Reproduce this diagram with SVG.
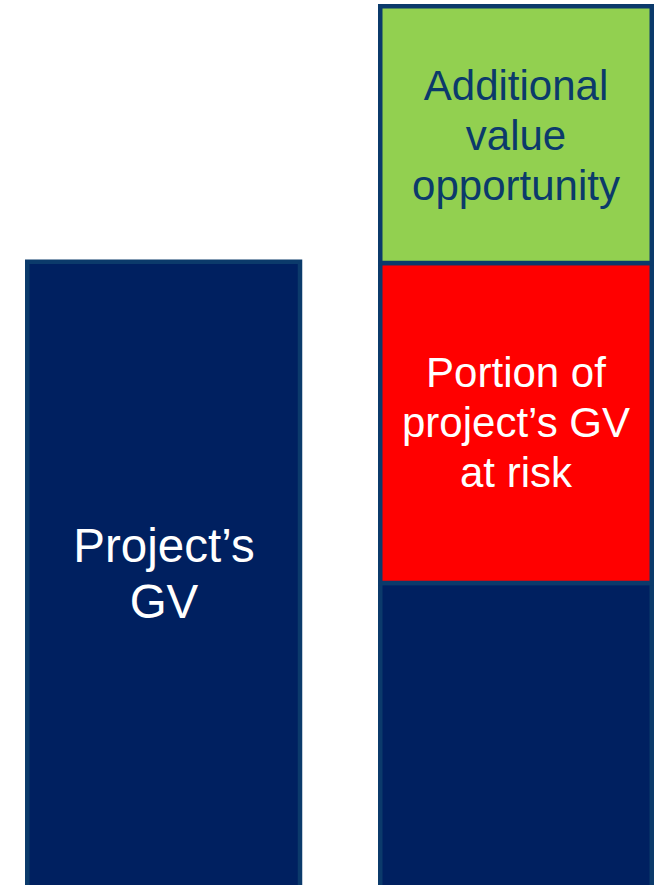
<svg xmlns="http://www.w3.org/2000/svg" width="659" height="885" viewBox="0 0 659 885">
<style>
.bar{stroke:#0B3A6B;stroke-width:4.5;}
.navy{fill:#002060;}
.green{fill:#92D050;}
.red{fill:#FF0000;}
text{font-family:"Liberation Sans",Arial,sans-serif;text-anchor:middle;}
.w{fill:#FFFFFF;}
.d{fill:#0B3A6B;}
</style>
<rect width="659" height="885" fill="#FFFFFF"/>
<g id="projects-gv">
<rect class="bar navy" x="27.25" y="261.75" width="272.75" height="640"/>
<text class="w" font-size="47.5" x="164" y="562">Project’s</text>
<text class="w" font-size="47.5" x="164" y="618">GV</text>
</g>
<g id="base">
<rect class="bar navy" x="380.25" y="583" width="271.5" height="320"/>
</g>
<g id="at-risk">
<rect class="bar red" x="380.25" y="263" width="271.5" height="320"/>
<text class="w" font-size="42" x="516" y="387">Portion of</text>
<text class="w" font-size="42" x="516" y="437">project’s GV</text>
<text class="w" font-size="42" x="516" y="487">at risk</text>
</g>
<g id="opportunity">
<rect class="bar green" x="380.25" y="6.25" width="271.5" height="256.75"/>
<text class="d" font-size="42" x="516" y="100">Additional</text>
<text class="d" font-size="42" x="516" y="150">value</text>
<text class="d" font-size="42" x="516" y="200">opportunity</text>
</g>
<g id="connectors"/>
</svg>
